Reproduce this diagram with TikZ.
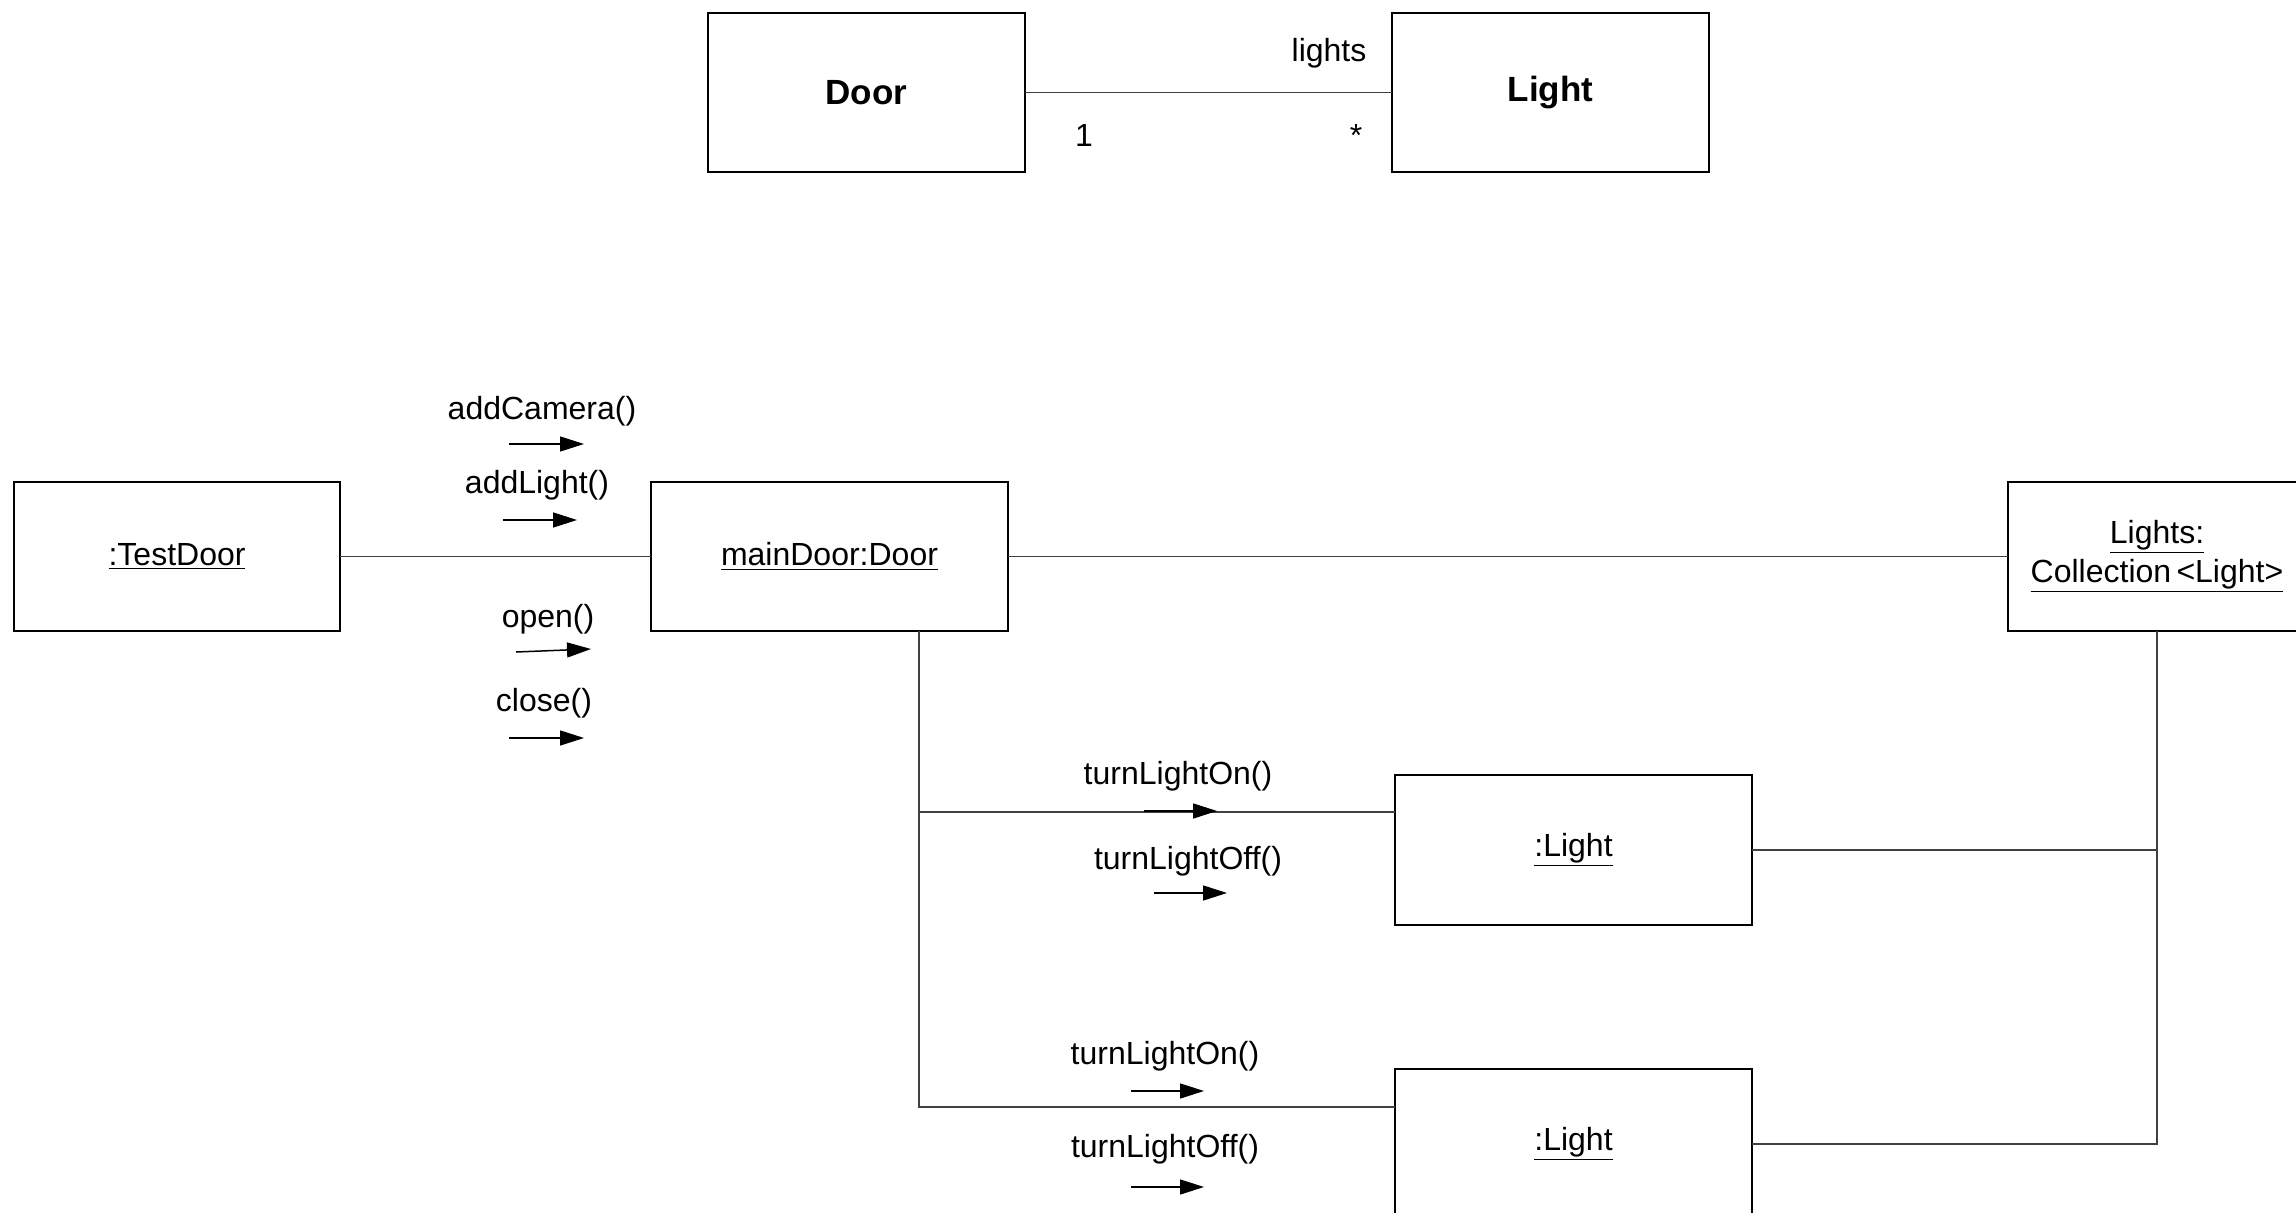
\documentclass[tikz,border=0pt]{standalone}
\usepackage{fontspec}
\setmainfont{Liberation Sans}
\usetikzlibrary{arrows.meta}
\begin{document}
\begin{tikzpicture}[x=0.5pt,y=-0.5pt,
  box/.style={draw=black,line width=1pt,rectangle,inner sep=0pt,outer sep=0pt,
    align=center,font=\fontsize{16}{19.5}\selectfont},
  classbox/.style={box,minimum width=158.5pt,minimum height=79.5pt,
    font=\fontsize{17.5}{21}\selectfont\bfseries},
  objbox/.style={box,minimum height=74.5pt},
  link/.style={draw=black!75,line width=0.75pt},
  msg/.style={draw=black,line width=0.75pt,-{Triangle[length=12pt,width=7.5pt]}},
  lbl/.style={inner sep=0pt,anchor=base,font=\fontsize{16}{19}\selectfont}]
  \useasboundingbox (0,0) rectangle (2296,1213);

  % class diagram
  \node[classbox] (door)  at (866.5,92.5)  {Door};
  \node[classbox] (light) at (1550.5,92.5) {Light};
  \draw[link] (door) -- (light);
  \node[lbl] (role)  at (1329,62)  {lights};
  \node[lbl] (mone)  at (1084,147) {1};
  \node[lbl] (mmany) at (1356,147) {*};

  % collaboration diagram objects
  \node[objbox,minimum width=163pt]   (test) at (177,556.5)    {\underline{:TestDoor}};
  \node[objbox,minimum width=178.5pt] (main) at (829.5,556.5)  {\underline{mainDoor:Door}};
  \node[objbox,minimum width=149pt]   (coll) at (2157,556.5)
    {\underline{Lights:}\\\underline{Collection\,<Light>}};
  \node[objbox,minimum width=178.5pt,minimum height=75pt] (lone) at (1573.5,850)  {\underline{:Light}};
  \node[objbox,minimum width=178.5pt,minimum height=75pt] (ltwo) at (1573.5,1144) {\underline{:Light}};

  % links
  \coordinate (ja) at (919,812);
  \coordinate (jb) at (919,1107);
  \draw[link] (test) -- (main);
  \draw[link] (main) -- (coll);
  \draw[link] (main.south -| ja) -- (jb) -- (ltwo.west |- jb);
  \draw[link] (ja) -- (lone.west |- ja);
  \draw[link] (coll.south) -- (coll.south |- ltwo.east) -- (ltwo.east);
  \draw[link] (lone.east) -- (coll.south |- lone.east);

  % messages
  \node[lbl] (mcam)  at (542,420) {addCamera()};
  \node[lbl] (mlig)  at (537,494) {addLight()};
  \node[lbl] (mopen) at (548,627) {open()};
  \node[lbl] (mclos) at (544,711) {close()};
  \node[lbl] (mon1)  at (1178,784)  {turnLightOn()};
  \node[lbl] (moff1) at (1188,869)  {turnLightOff()};
  \node[lbl] (mon2)  at (1165,1064) {turnLightOn()};
  \node[lbl] (moff2) at (1165,1157) {turnLightOff()};

  \coordinate (a1s) at (509,444);  \coordinate (a1e) at (584,444);
  \coordinate (a2s) at (503,520);  \coordinate (a2e) at (577,520);
  \coordinate (a3s) at (516,652);  \coordinate (a3e) at (591,649);
  \coordinate (a4s) at (509,738);  \coordinate (a4e) at (584,738);
  \coordinate (a5s) at (1144,811); \coordinate (a5e) at (1217,811);
  \coordinate (a6s) at (1154,893); \coordinate (a6e) at (1227,893);
  \coordinate (a7s) at (1131,1091);\coordinate (a7e) at (1204,1091);
  \coordinate (a8s) at (1131,1187);\coordinate (a8e) at (1204,1187);
  \foreach \i in {1,...,8} { \draw[msg] (a\i s) -- (a\i e); }
\end{tikzpicture}
\end{document}
